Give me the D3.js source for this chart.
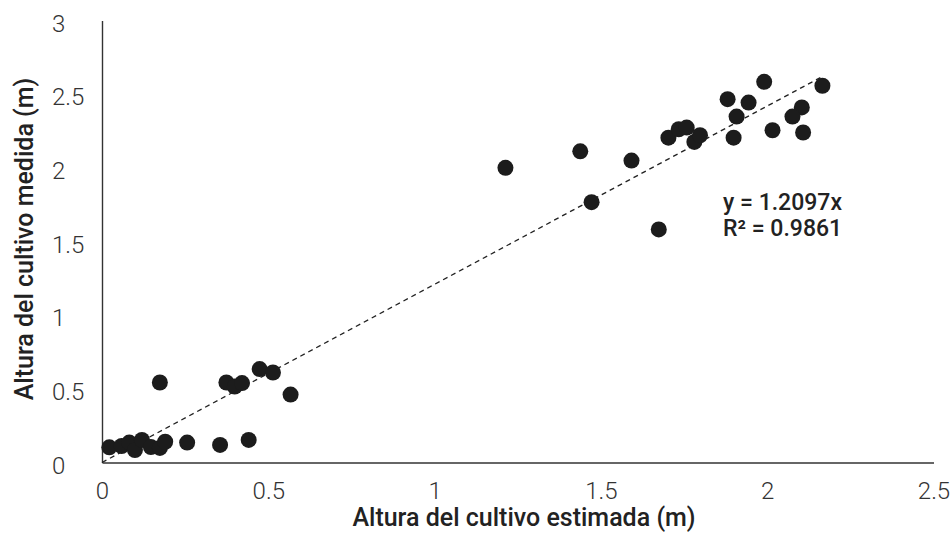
<!DOCTYPE html>
<html><head><meta charset="utf-8">
<script src="https://cdn.jsdelivr.net/npm/d3@7"></script>
<style>
html,body{margin:0;padding:0;background:#fff;}
svg{display:block;font-family:Roboto,"Noto Sans",sans-serif;}
</style></head>
<body><svg id="chart" width="951" height="535"></svg>
<script>
const xValues = [0.022,0.059,0.082,0.099,0.120,0.147,0.174,0.190,0.256,0.355,0.441,
  0.174,0.374,0.399,0.421,0.474,0.514,0.567,
  1.213,1.438,1.592,1.472,1.674,1.703,1.734,1.758,1.781,1.798,
  1.881,1.944,1.908,1.899,1.991,2.016,2.104,2.076,2.108,2.166];
const yValues = [0.103,0.112,0.135,0.085,0.153,0.105,0.099,0.141,0.135,0.119,0.153,
  0.543,0.543,0.516,0.539,0.634,0.611,0.461,
  2.000,2.112,2.049,1.767,1.582,2.205,2.262,2.273,2.176,2.221,
  2.466,2.443,2.348,2.205,2.584,2.255,2.410,2.348,2.240,2.557];
const xTicks = [0,0.5,1,1.5,2,2.5];
const yTicks = [0,0.5,1,1.5,2,2.5,3];
const slope = 1.2097;
const eqLabel = "y = 1.2097x";
const r2Label = "R² = 0.9861";
const xTitle = "Altura del cultivo estimada (m)";
const yTitle = "Altura del cultivo medida (m)";

const svg = d3.select("#chart");
const x = d3.scaleLinear().domain([0,2.5]).range([102,933.5]);
const y = d3.scaleLinear().domain([0,3]).range([462.5,20.5]);

const xAxis = d3.axisBottom(x).tickValues(xTicks).tickSize(0).tickPadding(19)
  .tickFormat(d=>String(d));
const gx = svg.append("g").attr("transform",`translate(0,${y(0)})`).call(xAxis);
gx.select(".domain").attr("stroke","#333").attr("stroke-width",1.4);
gx.selectAll("text").attr("font-size",24).attr("font-weight",300).attr("fill","#333")
  .attr("font-family","Roboto");

const yAxis = d3.axisLeft(y).tickValues(yTicks).tickSize(0).tickPadding(0)
  .tickFormat(d=>String(d));
const gy = svg.append("g").attr("transform",`translate(${x(0)},0)`).call(yAxis);
gy.select(".domain").attr("stroke","#333").attr("stroke-width",1.4);
gy.selectAll("text").attr("font-size",24).attr("font-weight",300).attr("fill","#333")
  .attr("font-family","Roboto").attr("text-anchor","start").attr("x",52-x(0)).attr("dy","0.45em");

const xMax = d3.max(xValues);
svg.append("line")
  .attr("x1",x(0)).attr("y1",y(0))
  .attr("x2",x(xMax)).attr("y2",y(slope*xMax))
  .attr("stroke","#222").attr("stroke-width",1.3).attr("stroke-dasharray","5,4");

svg.append("g").selectAll("circle").data(xValues.map((v,i)=>[v,yValues[i]])).join("circle")
  .attr("cx",d=>x(d[0])).attr("cy",d=>y(d[1])).attr("r",8).attr("fill","#1c1c1c");

svg.append("text").attr("x",723).attr("y",210).attr("font-size",23).attr("font-weight",500)
  .attr("fill","#222").text(eqLabel);
svg.append("text").attr("x",723).attr("y",236).attr("font-size",23).attr("font-weight",500)
  .attr("fill","#222").text(r2Label);

svg.append("text").attr("x",524).attr("y",526).attr("text-anchor","middle")
  .attr("font-size",25).attr("font-weight",500).attr("fill","#222").text(xTitle);
svg.append("text").attr("transform","translate(33,239) rotate(-90)").attr("text-anchor","middle")
  .attr("font-size",25).attr("font-weight",500).attr("fill","#222").text(yTitle);
</script></body></html>
